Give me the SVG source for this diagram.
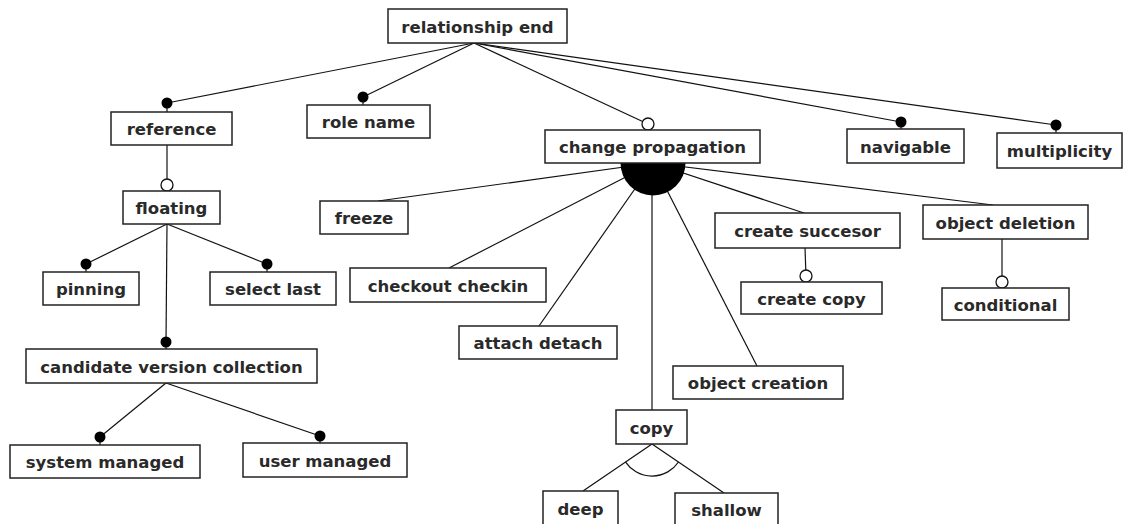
<svg xmlns="http://www.w3.org/2000/svg" width="1124" height="524" viewBox="0 0 1124 524">
  <style>
    .box rect { fill: #fff; stroke: #222; stroke-width: 1.5; }
    .box text { font-family: "DejaVu Sans", "Liberation Sans", sans-serif; font-weight: bold; font-size: 16.5px; fill: #2a2a2a; text-anchor: middle; }
    .conn line, .conn path { stroke: #111; stroke-width: 1.2; fill: none; }
    .mand { fill: #000; stroke: none; }
    .opt { fill: #fff; stroke: #111; stroke-width: 1.3; }
    .alt { fill: #000; stroke: none; }
  </style>
  <rect width="1124" height="524" fill="#fff"/>

  <g id="connectors" class="conn">
    <!-- relationship end -->
    <line x1="474" y1="43" x2="167" y2="103"/>
    <line x1="474" y1="43" x2="363" y2="97"/>
    <line x1="474" y1="43" x2="648" y2="124"/>
    <line x1="474" y1="43" x2="901" y2="122" stroke-width="1.7"/>
    <line x1="474" y1="43" x2="1056" y2="125" stroke-width="1.7"/>
    <!-- reference / floating -->
    <line x1="167" y1="145" x2="167" y2="185"/>
    <line x1="167" y1="224" x2="86" y2="264"/>
    <line x1="167" y1="224" x2="267" y2="264"/>
    <line x1="167" y1="224" x2="166" y2="342"/>
    <line x1="86" y1="264" x2="86" y2="272"/>
    <line x1="267" y1="264" x2="267" y2="272"/>
    <line x1="166" y1="342" x2="166" y2="349"/>
    <!-- candidate version collection -->
    <line x1="166" y1="383" x2="100" y2="437"/>
    <line x1="166" y1="383" x2="320" y2="436"/>
    <line x1="100" y1="437" x2="100" y2="445"/>
    <line x1="320" y1="436" x2="320" y2="443"/>
    <!-- stubs under dots -->
    <line x1="167" y1="103" x2="167" y2="112"/>
    <line x1="363" y1="97" x2="363" y2="105"/>
    <line x1="901" y1="122" x2="901" y2="129"/>
    <line x1="1056" y1="125" x2="1056" y2="133"/>
    <!-- change propagation alternatives -->
    <line x1="653" y1="163" x2="378" y2="201"/>
    <line x1="653" y1="163" x2="449" y2="268"/>
    <line x1="653" y1="163" x2="539" y2="326"/>
    <line x1="652" y1="163" x2="652" y2="410"/>
    <line x1="653" y1="163" x2="757" y2="366"/>
    <line x1="653" y1="163" x2="804" y2="213"/>
    <line x1="653" y1="163" x2="993" y2="205"/>
    <!-- create succesor / object deletion -->
    <line x1="805" y1="248" x2="806" y2="276"/>
    <line x1="1002" y1="239" x2="1002" y2="281"/>
    <!-- copy alternatives -->
    <line x1="652" y1="444" x2="583" y2="491"/>
    <line x1="652" y1="444" x2="724" y2="493"/>
    <path d="M625.4,461.8 A32,32 0 0 0 678.5,462"/>
  </g>

  <!-- feature markers -->
  <g id="markers">
    <circle class="mand" cx="167" cy="103" r="5.5"/>
    <circle class="mand" cx="363" cy="97" r="5.5"/>
    <circle class="mand" cx="901" cy="122" r="5.5"/>
    <circle class="mand" cx="1056" cy="125" r="5.5"/>
    <circle class="mand" cx="86" cy="264" r="5.5"/>
    <circle class="mand" cx="267" cy="264" r="5.5"/>
    <circle class="mand" cx="166" cy="342" r="5.5"/>
    <circle class="mand" cx="100" cy="437" r="5.5"/>
    <circle class="mand" cx="320" cy="436" r="5.5"/>
    <circle class="opt" cx="648" cy="124" r="6"/>
    <circle class="opt" cx="167" cy="185" r="6"/>
    <circle class="opt" cx="806" cy="276" r="6"/>
    <circle class="opt" cx="1002" cy="282" r="6"/>
    <path class="alt" d="M620.5,163 A32.5,32.5 0 0 0 685.5,163 Z"/>
  </g>

  <g id="relationship-end" class="box"><rect x="388" y="9" width="179" height="34"/><text x="477.5" y="32.5">relationship end</text></g>
  <g id="reference" class="box"><rect x="111" y="112" width="121" height="33"/><text x="171.5" y="135">reference</text></g>
  <g id="role-name" class="box"><rect x="307" y="105" width="123" height="33"/><text x="368.5" y="128">role name</text></g>
  <g id="change-propagation" class="box"><rect x="545" y="130" width="215" height="33"/><text x="652.5" y="153">change propagation</text></g>
  <g id="navigable" class="box"><rect x="847" y="129" width="117" height="34"/><text x="905.5" y="152.5">navigable</text></g>
  <g id="multiplicity" class="box"><rect x="997" y="133" width="125" height="35"/><text x="1059.5" y="157">multiplicity</text></g>
  <g id="floating" class="box"><rect x="123" y="191" width="97" height="33"/><text x="171.5" y="214">floating</text></g>
  <g id="freeze" class="box"><rect x="320" y="201" width="88" height="33"/><text x="364" y="224">freeze</text></g>
  <g id="create-succesor" class="box"><rect x="715" y="213" width="185" height="35"/><text x="807.5" y="237">create succesor</text></g>
  <g id="object-deletion" class="box"><rect x="923" y="205" width="165" height="34"/><text x="1005.5" y="228.5">object deletion</text></g>
  <g id="pinning" class="box"><rect x="43" y="272" width="96" height="33"/><text x="91" y="295">pinning</text></g>
  <g id="select-last" class="box"><rect x="210" y="272" width="126" height="33"/><text x="273" y="295">select last</text></g>
  <g id="checkout-checkin" class="box"><rect x="350" y="268" width="196" height="34"/><text x="448" y="291.5">checkout checkin</text></g>
  <g id="create-copy" class="box"><rect x="741" y="282" width="141" height="32"/><text x="811.5" y="304.5">create copy</text></g>
  <g id="conditional" class="box"><rect x="942" y="288" width="127" height="32"/><text x="1005.5" y="310.5">conditional</text></g>
  <g id="attach-detach" class="box"><rect x="459" y="326" width="158" height="33"/><text x="538" y="349">attach detach</text></g>
  <g id="candidate-version-collection" class="box"><rect x="26" y="349" width="291" height="34"/><text x="171.5" y="372.5">candidate version collection</text></g>
  <g id="object-creation" class="box"><rect x="673" y="366" width="170" height="33"/><text x="758" y="389">object creation</text></g>
  <g id="copy" class="box"><rect x="616" y="410" width="71" height="34"/><text x="651.5" y="433.5">copy</text></g>
  <g id="system-managed" class="box"><rect x="10" y="445" width="190" height="33"/><text x="105" y="468">system managed</text></g>
  <g id="user-managed" class="box"><rect x="243" y="443" width="164" height="34"/><text x="325" y="466.5">user managed</text></g>
  <g id="deep" class="box"><rect x="543" y="491" width="75" height="35"/><text x="580.5" y="515">deep</text></g>
  <g id="shallow" class="box"><rect x="675" y="493" width="103" height="33"/><text x="726.5" y="516">shallow</text></g>
</svg>
